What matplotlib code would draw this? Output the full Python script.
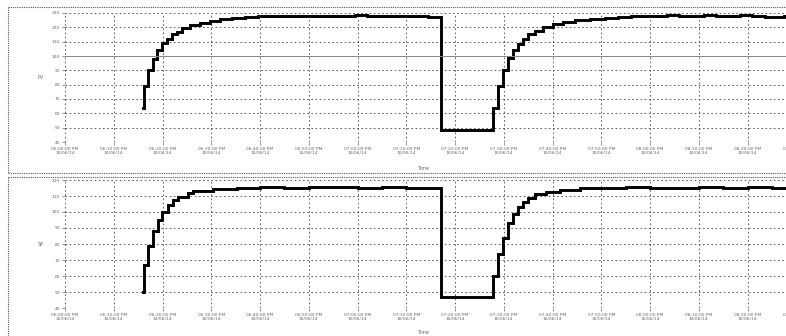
import pandas as pd
import matplotlib
matplotlib.use('Agg')
import matplotlib.pyplot as plt
import matplotlib.dates as mdates
from matplotlib.lines import Line2D

start = pd.Timestamp('2014-10-06 18:00:00')

# minutes after start, and the value from that minute on
pv_min = [15.9, 16.2, 17.0, 18.0, 18.8, 19.9, 20.9, 21.9, 22.9, 24.0, 25.6, 27.7, 29.7, 31.8, 34.2, 36.9,
          39.5, 42.0, 44.5, 47.0, 49.5, 52.0, 54.5, 57.0, 59.5, 62.0, 64.5, 67.0, 69.5, 72.0, 74.5,
          77.2, 87.8, 88.8, 89.9, 90.9, 91.9, 93.0, 94.0, 95.0, 96.4, 98.1, 100.1, 102.2, 104.7, 107.7, 110.8,
          113.5, 116.0, 118.5, 121.0, 123.5, 126.0, 128.5, 131.0, 133.5, 136.0, 138.5, 141.0, 143.5, 145.0,
          147.5, 150.0, 152.0]
pv_val = [64, 79, 90, 98, 104, 109, 112, 115, 117, 119.5, 121.5, 123, 124.5, 125.5, 126.3, 127,
          127.6, 127.9, 128.1, 127.8, 128.2, 128.0, 127.7, 128.1, 128.3, 128.0, 127.9, 128.2, 128.1, 127.9, 127.5,
          48.4, 64, 79, 90, 98.5, 104, 108.5, 112, 115, 117.5, 120, 122, 123.5, 125, 126, 126.8,
          127.3, 127.7, 128.0, 127.8, 128.3, 128.1, 127.9, 128.4, 128.2, 128.0, 128.3, 127.9, 127.3, 127.1,
          127.8, 128.0, 128.0]

sp_min = [15.9, 16.2, 17.0, 18.0, 19.0, 19.9, 21.1, 22.1, 23.1, 25.2, 26.2, 30.3, 35.3,
          40.0, 45.0, 50.0, 55.0, 60.0, 65.0, 70.0, 74.0,
          77.2, 87.8, 88.8, 89.9, 90.9, 91.9, 93.0, 94.0, 95.0, 96.4, 98.6, 101.6, 105.7,
          110.0, 115.0, 120.0, 125.0, 130.0, 135.0, 140.0, 145.0, 152.0]
sp_val = [50, 67, 79, 88, 95, 100, 104.5, 107.5, 109.5, 111.7, 113, 114.4, 115.2,
          115.5, 115.3, 115.6, 115.4, 115.2, 115.5, 115.3, 115.1,
          47.1, 60, 74, 84, 93, 99, 103, 106, 109, 111, 112.5, 114, 115,
          115.2, 115.4, 115.1, 115.3, 115.5, 115.2, 115.4, 115.3, 115.3]

pv_time = [start + pd.Timedelta(minutes=m) for m in pv_min]
sp_time = [start + pd.Timedelta(minutes=m) for m in sp_min]
xmax = start + pd.Timedelta(minutes=152)
xticks = [start + pd.Timedelta(minutes=10 * k) for k in range(16)]

W, H = 786, 336
fig = plt.figure(figsize=(W / 100, H / 100), dpi=100)

def fx(px):
    return px / W

def fy(py):
    return 1 - py / H

panels = [
    # data, ylim, yticks, ylabel, axes top/bottom px, xlabel y px
    (pv_time, pv_val, (40, 130), range(40, 131, 10), 'PV', 13, 142, 168),
    (sp_time, sp_val, (40, 120), range(40, 121, 10), 'SP', 180, 308, 333),
]

for t, v, ylim, yt, ylab, top, bot, xl_y in panels:
    ax = fig.add_axes([fx(65), fy(bot), fx(806) - fx(65), fy(top) - fy(bot)])
    ax.step(t, v, where='post', color='black', lw=2.1, solid_joinstyle='miter')
    ax.set_xlim(start, xmax)
    ax.set_ylim(*ylim)
    ax.set_yticks(list(yt))
    ax.set_xticks(xticks)
    ax.xaxis.set_major_formatter(mdates.DateFormatter('%I:%M:%S %p\n%m/%d/%y'))
    ax.grid(True, color='#444444', ls=(0, (2, 3)), lw=0.6)
    for s in ax.spines.values():
        s.set_visible(False)
    ax.tick_params(axis='both', labelsize=3.2, labelcolor='#666666', length=2, width=0.5,
                   color='#666666', pad=1.5)
    ax.set_ylabel(ylab, fontsize=3.5, color='#666666', rotation=0, labelpad=8, va='center')
    fig.text(fx(423), fy(xl_y), 'Time', fontsize=3.5, color='#666666', ha='center', va='center')
    if ylab == 'PV':
        ax.axhline(100, color='#888888', lw=0.7)

# dotted widget borders
dot = dict(color='#555555', lw=0.8, ls=(0, (1, 1)))
fig.add_artist(Line2D([fx(8), 1], [fy(7), fy(7)], **dot))
fig.add_artist(Line2D([fx(8), fx(8)], [fy(7), fy(173)], **dot))
fig.add_artist(Line2D([fx(8), 1], [fy(173), fy(173)], **dot))
fig.add_artist(Line2D([fx(8), 1], [fy(177), fy(177)], **dot))
fig.add_artist(Line2D([fx(8), fx(8)], [fy(177), 0], **dot))

fig.savefig('out.png', dpi=100)
